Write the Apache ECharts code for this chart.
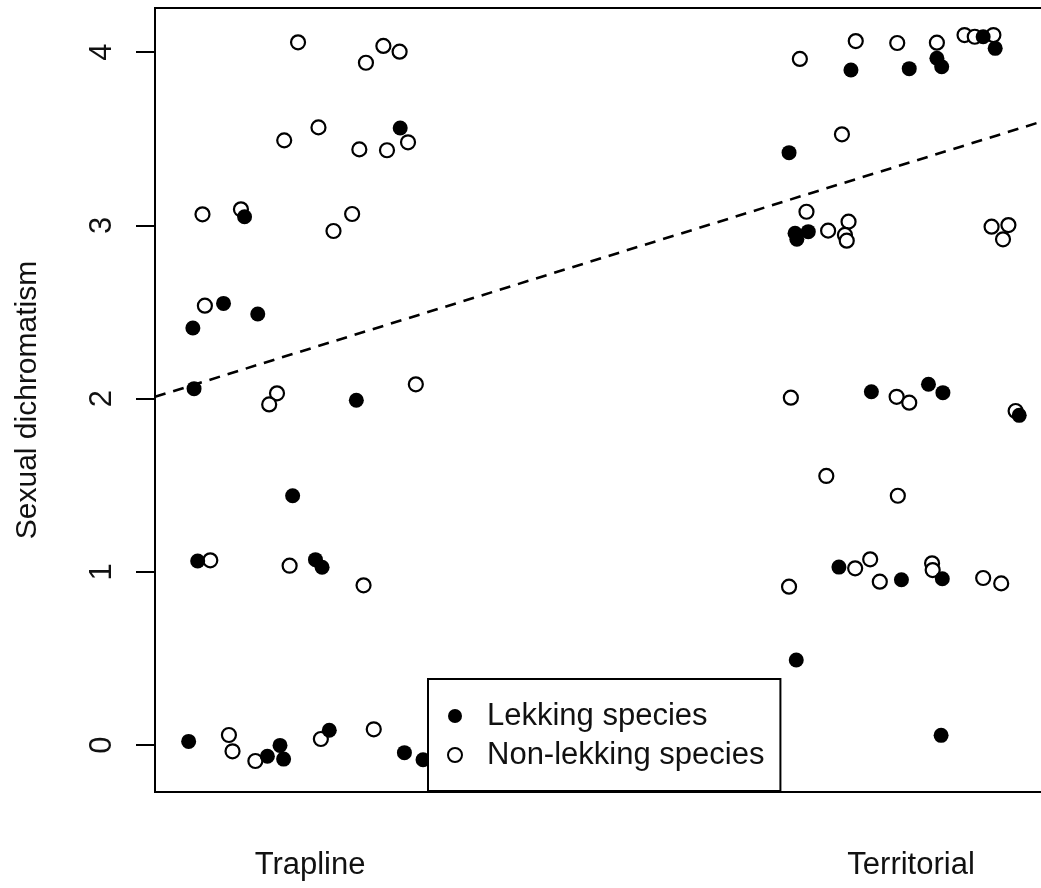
<!DOCTYPE html>
<html>
<head>
<meta charset="utf-8">
<title>Sexual dichromatism by display type</title>
<script src="https://cdn.jsdelivr.net/npm/echarts@6/dist/echarts.min.js"></script>
<style>
  html, body { margin: 0; padding: 0; background: #fff; }
  #chart { width: 1041px; height: 888px; }
</style>
</head>
<body>
<div id="chart"></div>
<script>
// Display-type groups on the x axis (1 = Trapline, 2 = Territorial, points jittered around them)
const categories = ['Trapline', 'Territorial'];
const categoryPositions = [1, 2];
const yTicks = [0, 1, 2, 3, 4];

// Trapline species: [jittered position, sexual dichromatism score]
const traplineLekking = [
  [1.150, 3.561], [0.891, 3.049], [0.856, 2.549], [0.913, 2.488], [0.805, 2.407],
  [0.807, 2.057], [1.077, 1.990], [0.971, 1.439], [0.813, 1.062], [1.009, 1.070],
  [1.020, 1.026], [0.798, 0.021], [0.929, -0.065], [0.950, -0.002], [0.956, -0.081],
  [1.032, 0.085], [1.157, -0.044], [1.188, -0.085]
];
const traplineNonLekking = [
  [0.980, 4.056], [1.122, 4.035], [1.149, 4.002], [1.093, 3.938], [1.014, 3.565],
  [0.957, 3.490], [1.163, 3.479], [1.082, 3.438], [1.128, 3.433], [0.821, 3.063],
  [0.885, 3.092], [1.070, 3.065], [1.039, 2.967], [0.825, 2.536], [0.945, 2.030],
  [0.932, 1.966], [1.176, 2.082], [0.834, 1.066], [0.966, 1.035], [1.089, 0.922],
  [0.865, 0.058], [0.871, -0.036], [0.909, -0.092], [1.018, 0.035], [1.106, 0.091]
];

// Territorial species
const territorialLekking = [
  [1.900, 3.896], [1.997, 3.904], [2.043, 3.964], [2.051, 3.915], [2.120, 4.088],
  [2.140, 4.021], [1.797, 3.419], [1.807, 2.954], [1.829, 2.963], [1.810, 2.919],
  [1.934, 2.039], [2.029, 2.082], [2.053, 2.034], [2.180, 1.903], [1.880, 1.027],
  [1.984, 0.954], [2.052, 0.960], [1.809, 0.491], [2.050, 0.056]
];
const territorialNonLekking = [
  [1.815, 3.960], [1.908, 4.063], [1.977, 4.052], [2.043, 4.054], [2.089, 4.098],
  [2.106, 4.088], [2.137, 4.098], [1.885, 3.525], [1.826, 3.078], [1.862, 2.969],
  [1.896, 3.021], [1.890, 2.944], [1.893, 2.911], [2.134, 2.992], [2.162, 3.001],
  [2.153, 2.919], [1.800, 2.005], [1.976, 2.010], [1.997, 1.976], [2.174, 1.928],
  [1.859, 1.553], [1.978, 1.439], [1.797, 0.914], [1.907, 1.020], [1.932, 1.072],
  [1.948, 0.943], [2.035, 1.049], [2.036, 1.010], [2.120, 0.964], [2.150, 0.933]
];

// Fitted trend across the full x range (endpoints)
const trendLine = [[0.742, 2.010], [2.25, 3.634]];

const FONT = '"Liberation Sans", Arial, Helvetica, sans-serif';

const chart = echarts.init(document.getElementById('chart'), null, { renderer: 'canvas' });

chart.setOption({
  backgroundColor: '#ffffff',
  animation: false,
  grid: {
    left: 155,
    top: 8,
    width: 906.3,
    height: 784,
    outerBoundsMode: 'none',
    containLabel: false,
    show: true,
    borderColor: '#000',
    borderWidth: 2,
    backgroundColor: 'transparent'
  },
  xAxis: {
    type: 'value',
    min: 0.742,
    max: 2.25,
    axisLine: { show: false },
    axisTick: { show: false },
    splitLine: { show: false },
    axisLabel: {
      customValues: categoryPositions,
      formatter: (v) => categories[categoryPositions.indexOf(Math.round(v))] || '',
      margin: 58,
      fontFamily: FONT,
      fontSize: 31,
      color: '#111'
    }
  },
  yAxis: {
    type: 'value',
    min: -0.271,
    max: 4.254,
    name: 'Sexual dichromatism',
    nameLocation: 'middle',
    nameRotate: 90,
    nameGap: 112,
    nameTextStyle: { fontFamily: FONT, fontSize: 30, color: '#111' },
    axisLine: { show: false },
    splitLine: { show: false },
    axisTick: {
      show: true,
      customValues: yTicks,
      length: 19,
      lineStyle: { color: '#000', width: 2 }
    },
    axisLabel: {
      customValues: yTicks,
      rotate: 90,
      margin: 37,
      fontFamily: FONT,
      fontSize: 31,
      color: '#111'
    }
  },
  legend: {
    orient: 'vertical',
    left: 428,
    top: 679,
    backgroundColor: '#fff',
    borderColor: '#000',
    borderWidth: 2,
    borderRadius: 0,
    padding: [21, 16, 20, 19],
    itemGap: 7,
    itemWidth: 14,
    itemHeight: 14,
    textStyle: {
      fontFamily: FONT,
      fontSize: 31,
      color: '#111',
      lineHeight: 32,
      padding: [0, 0, 0, 20]
    },
    data: [
      { name: 'Lekking species', icon: 'circle', itemStyle: { color: '#000', borderWidth: 0 } },
      { name: 'Non-lekking species', icon: 'circle',
        itemStyle: { color: '#fff', borderColor: '#000', borderWidth: 2 } }
    ]
  },
  series: [
    {
      name: 'trend',
      type: 'line',
      data: trendLine,
      symbol: 'none',
      silent: true,
      z: 1,
      lineStyle: { color: '#000', width: 2.6, type: [11, 8] }
    },
    {
      name: 'Non-lekking species',
      type: 'scatter',
      data: traplineNonLekking.concat(territorialNonLekking),
      symbol: 'circle',
      symbolSize: 14,
      z: 2,
      itemStyle: { color: '#fff', borderColor: '#000', borderWidth: 2.2, opacity: 1 }
    },
    {
      name: 'Lekking species',
      type: 'scatter',
      data: traplineLekking.concat(territorialLekking),
      symbol: 'circle',
      symbolSize: 15,
      z: 3,
      itemStyle: { color: '#000', opacity: 1 }
    }
  ]
});
</script>
</body>
</html>
